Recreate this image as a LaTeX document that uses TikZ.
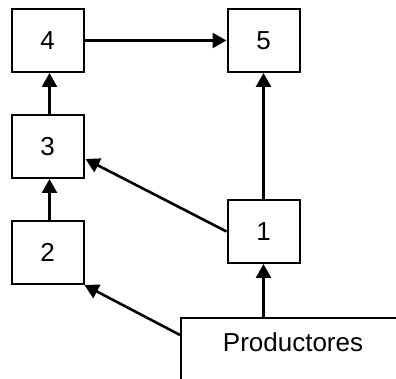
\documentclass[tikz,border=0pt]{standalone}
\usepackage{fontspec}
\setmainfont{Liberation Sans}
\usetikzlibrary{arrows.meta,calc}
\begin{document}
\begin{tikzpicture}[x=1pt,y=1pt,
  box/.style={draw, line width=2pt, minimum width=72pt, minimum height=63pt, inner sep=0pt, font=\fontsize{26}{30}\selectfont},
  conn/.style={line width=2.6pt, -{Triangle[length=14pt,width=15pt]}}]
\useasboundingbox (0,0) rectangle (396,-379);
\clip (0,0) rectangle (396,-379);
\node[box] (b4) at (47.5,-40.5) {4};
\node[box] (b5) at (263.5,-40.5) {5};
\node[box] (b3) at (47.5,-146.5) {3};
\node[box] (b2) at (47.5,-252.5) {2};
\node[box] (b1) at (263.5,-231.5) {1};
\node[draw, line width=2pt, minimum width=240pt, minimum height=100pt, anchor=north west] (prod) at (180,-317) {};
\node[font=\fontsize{26}{30}\selectfont] (lab) at (293,-342) {Productores};
\draw[conn] (b4.east) -- (b5.west);
\draw[conn] ($(b3.north)+(2,0)$) -- ($(b4.south)+(2,0)$);
\draw[conn] ($(b2.north)+(2,0)$) -- ($(b3.south)+(2,0)$);
\draw[conn] (b1.north) -- (b5.south);
\draw[conn] (b1.west) -- ($(b3.south east)+(1,20)$);
\draw[conn] (b1.south |- prod.north) -- (b1.south);
\draw[conn] ($(prod.north west)+(0,-18)$) -- (b2.south east);
\end{tikzpicture}
\end{document}
